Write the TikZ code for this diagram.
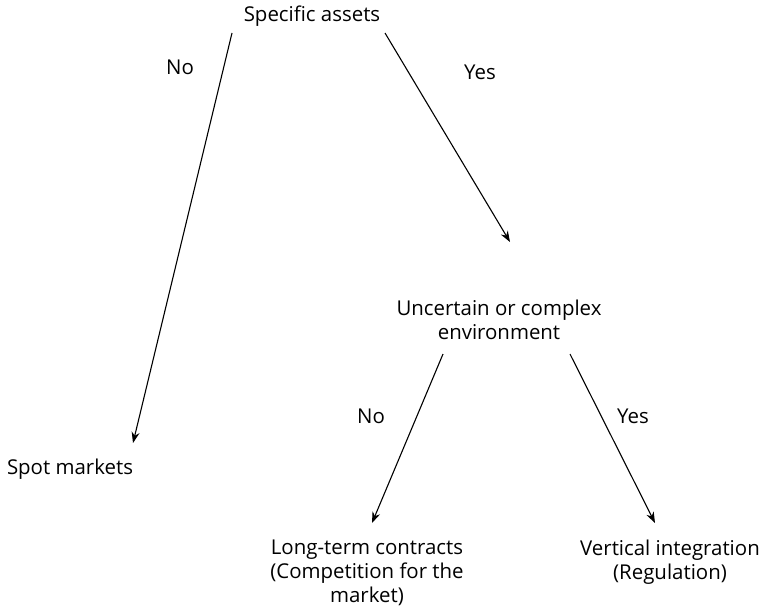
\documentclass[tikz,border=0pt]{standalone}
\usepackage{fontspec}
\setmainfont{Open Sans}
\usetikzlibrary{arrows.meta}
\begin{document}
\begin{tikzpicture}[x=1bp,y=-1bp,
  every node/.style={font=\fontsize{20.5}{24}\selectfont, align=center, inner sep=0pt},
  arr/.style={-{Stealth[length=11bp,width=8bp]}, line width=1.1bp}]
\useasboundingbox (0,0) rectangle (765,612);

% decision points
\node[anchor=base] (specific) at (312,22) {Specific assets};
\node[anchor=north] (unc) at (499,300) {Uncertain or complex\\environment};

% outcomes
\node[anchor=base] (spot) at (70,474) {Spot markets};
\node[anchor=north] (longterm) at (367,540) {Long-term contracts\\(Competition for the\\market)};
\node[anchor=north] (vertical) at (670,540) {Vertical integration\\(Regulation)};

% branch labels
\node (no1) at (180,67) {No};
\node (yes1) at (480,72) {Yes};
\node (no2) at (371,416) {No};
\node (yes2) at (633,416) {Yes};

\draw[arr] ([xshift=-80bp,yshift=-11bp]specific.base) -- ([xshift=63bp,yshift=31bp]spot.base);
\draw[arr] ([xshift=73bp,yshift=-11bp]specific.base) -- ([xshift=11bp,yshift=58bp]unc.north);
\draw[arr] ([xshift=-56bp,yshift=-14bp]unc.south) -- ([xshift=5bp,yshift=17bp]longterm.north);
\draw[arr] ([xshift=71bp,yshift=-14bp]unc.south) -- ([xshift=-15bp,yshift=17bp]vertical.north);
\end{tikzpicture}
\end{document}
